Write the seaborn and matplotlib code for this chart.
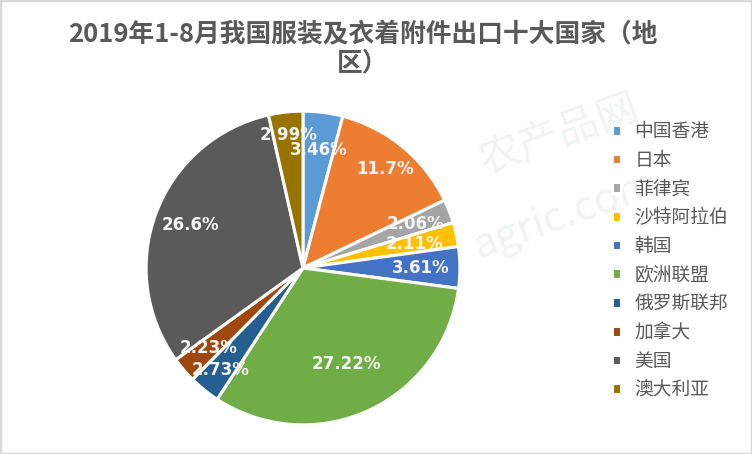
import numpy as np
import matplotlib
matplotlib.use("Agg")
import matplotlib.pyplot as plt
import seaborn as sns
from matplotlib.patches import Rectangle

# 数据
countries = ["中国香港", "日本", "菲律宾", "沙特阿拉伯", "韩国",
             "欧洲联盟", "俄罗斯联邦", "加拿大", "美国", "澳大利亚"]
shares = [3.46, 11.7, 2.06, 2.11, 3.61, 27.22, 2.73, 2.23, 26.6, 2.99]
share_labels = ["3.46%", "11.7%", "2.06%", "2.11%", "3.61%",
                "27.22%", "2.73%", "2.23%", "26.6%", "2.99%"]
title = "2019年1-8月我国服装及衣着附件出口十大国家（地\n区）"

# 标签离圆心的距离（相对半径）
label_dist = [0.76, 0.82, 0.77, 0.73, 0.75, 0.67, 0.84, 0.79, 0.77, 0.85]

sns.set_theme(style="white")
plt.rcParams['font.family'] = ['Noto Sans CJK SC', 'DejaVu Sans']

colors = sns.color_palette(["#5B9BD5", "#ED7D31", "#A5A5A5", "#FFC000", "#4472C4",
                            "#70AD47", "#255E91", "#9E480E", "#5A5A5A", "#997300"])

W, H = 752, 454
fig = plt.figure(figsize=(W / 100, H / 100), dpi=100)
fig.patch.set_facecolor("white")

# 水印
fig.text(560 / W, 1 - 135 / H, "农产品网", fontsize=30, color="#eef4ee",
         rotation=20, ha="center", va="center", zorder=-1)
fig.text(565 / W, 1 - 215 / H, "agric.com", fontsize=30, color="#eef4ee",
         rotation=20, ha="center", va="center", zorder=-1)

cx, cy, r = 303, 268, 160
ax = fig.add_axes([(cx - r) / W, (H - cy - r) / H, 2 * r / W, 2 * r / H])
ax.patch.set_alpha(0)

wedges, texts = ax.pie(shares, colors=colors, startangle=90, counterclock=False,
                       labels=share_labels, labeldistance=0.75,
                       wedgeprops=dict(edgecolor="white", linewidth=2.2))
for w, t, d in zip(wedges, texts, label_dist):
    ang = np.deg2rad((w.theta1 + w.theta2) / 2)
    t.set_position((d * np.cos(ang), d * np.sin(ang)))
    t.set_ha("center")
    t.set_va("center")
    t.set_color("#f5f5f5")
    t.set_fontsize(12)
    t.set_fontweight("bold")
    t.set_family("DejaVu Sans")
ax.set_xlim(-1.02, 1.02)
ax.set_ylim(-1.02, 1.02)
ax.axis("off")

fig.text(363 / W, 1 - 49 / H, title, fontsize=18.5, fontweight="bold",
         color="#595959", ha="center", va="center", linespacing=1.05)

leg = fig.legend(wedges, countries, loc="upper left",
                 bbox_to_anchor=(612 / W, 1 - 121 / H), frameon=False,
                 fontsize=13.5, handlelength=0.5, handleheight=0.5,
                 handletextpad=0.7, labelspacing=0.41, borderpad=0,
                 borderaxespad=0)
for txt in leg.get_texts():
    txt.set_color("#595959")

fig.patches.append(Rectangle((0, 0), 1, 1, transform=fig.transFigure,
                             fill=False, edgecolor="#d9d9d9", linewidth=2.5))

fig.savefig("out.png", dpi=100)
